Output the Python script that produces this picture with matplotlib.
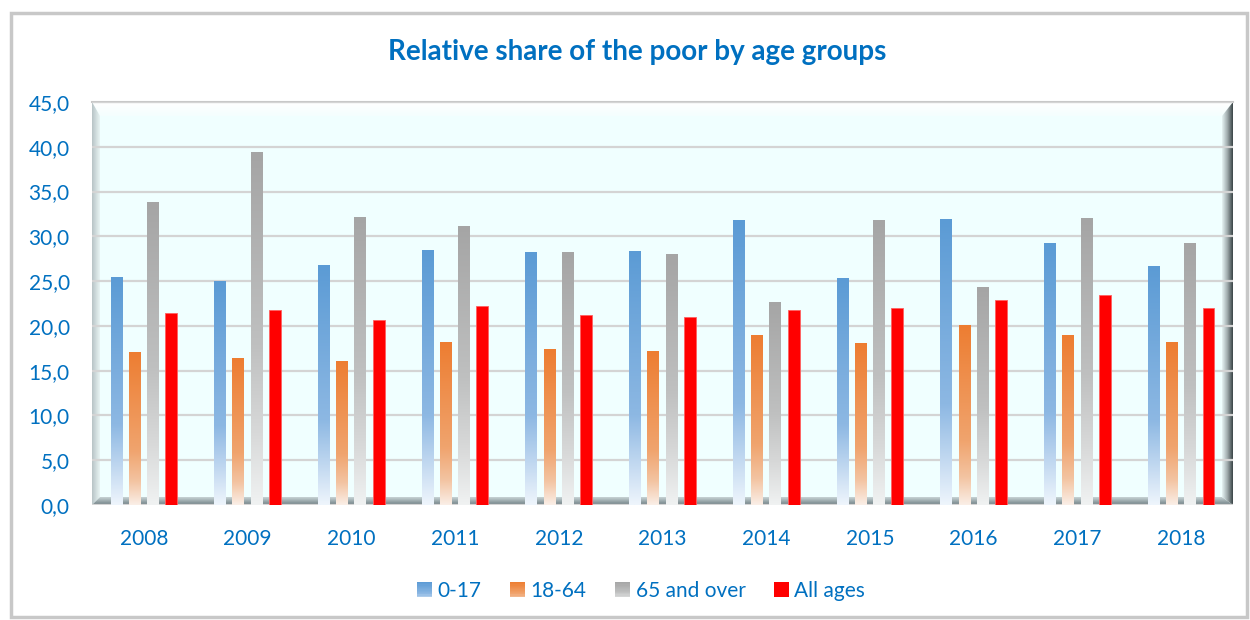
import matplotlib
matplotlib.use("Agg")
import matplotlib.pyplot as plt
import numpy as np
from matplotlib.colors import LinearSegmentedColormap
from matplotlib.patches import Rectangle, Polygon
from matplotlib.legend_handler import HandlerBase

years = ['2008', '2009', '2010', '2011', '2012', '2013', '2014', '2015', '2016', '2017', '2018']
age_0_17 = [25.5, 25.0, 26.8, 28.5, 28.2, 28.4, 31.8, 25.4, 31.9, 29.2, 26.7]
age_18_64 = [17.1, 16.4, 16.1, 18.2, 17.4, 17.2, 19.0, 18.1, 20.1, 19.0, 18.2]
age_65_over = [33.8, 39.4, 32.2, 31.2, 28.2, 28.0, 22.7, 31.8, 24.3, 32.0, 29.2]
all_ages = [21.4, 21.8, 20.7, 22.2, 21.2, 21.0, 21.8, 22.0, 22.9, 23.4, 22.0]
series_names = ['0-17', '18-64', '65 and over', 'All ages']

BLUE_TXT = '#0070C0'
FONT = 'Lato'

cmaps = [
    LinearSegmentedColormap.from_list('b', [(0, '#EEF5FC'), (0.15, '#C4DAF1'), (0.35, '#8DB8E3'), (1, '#5B9BD5')]),
    LinearSegmentedColormap.from_list('o', [(0, '#FAEEE6'), (0.15, '#F3C4A2'), (0.35, '#F0A46E'), (1, '#ED7D31')]),
    LinearSegmentedColormap.from_list('g', [(0, '#F0F2F2'), (0.2, '#D8D9D9'), (0.45, '#BFC0C0'), (1, '#A5A5A5')]),
    None,
]

fig = plt.figure(figsize=(12.5, 6.2), dpi=100)
W, H = 1250.0, 620.0

# outer chart frame
fig.patches.append(Rectangle((11 / W, 1 - 617 / H), 1236 / W, 604 / H, transform=fig.transFigure,
                             facecolor='none', edgecolor='#C8C8C8', lw=2.5, zorder=-1))

ax = fig.add_axes([92 / W, 115 / H, 1141 / W, 403 / H])
ax.set_xlim(-0.5, 10.5)
ax.set_ylim(0, 45)
for s in ax.spines.values():
    s.set_visible(False)
ax.set_facecolor('#F0FFFF')

# 3d-ish walls (in axes coords)
px = 1 / 1141.0
py = 1 / 403.0
lw_ = 8 * px
rw_ = 11 * px
tw_ = 14 * py
fw_ = 8 * py

def grad_patch(poly, colors, horizontal, z):
    p = Polygon(poly, closed=True, transform=ax.transAxes, facecolor='none', edgecolor='none', zorder=z)
    ax.add_patch(p)
    cm = LinearSegmentedColormap.from_list('w', colors)
    g = np.linspace(0, 1, 64)
    img = g[None, :] if horizontal else g[:, None]
    xs = [q[0] for q in poly]
    ys = [q[1] for q in poly]
    im = ax.imshow(img, cmap=cm, aspect='auto', extent=(min(xs), max(xs), min(ys), max(ys)),
                   transform=ax.transAxes, origin='lower', zorder=z, interpolation='bilinear')
    im.set_clip_path(p)

# top white band
grad_patch([(0, 1), (1, 1), (1 - rw_, 1 - tw_), (lw_, 1 - tw_)], ['#F4FEFE', '#FFFFFF'], False, 0.2)
# left wall
grad_patch([(0, 1), (lw_, 1 - tw_), (lw_, fw_), (0, 0)], ['#B8C4C6', '#E8F4F4'], True, 0.3)
# floor
grad_patch([(0, 0), (lw_, fw_), (1 - rw_, fw_), (1, 0)], ['#6E7E82', '#C8D4D6'], False, 0.3)
# right wall
grad_patch([(1 - rw_, 1 - tw_), (1, 1), (1, 0), (1 - rw_, fw_)], ['#E6F4F4', '#9FAAAC', '#3A4446'], True, 0.3)
ax.plot([0, 1], [1, 1], transform=ax.transAxes, color='#C8C8C8', lw=1.5, zorder=0.4, clip_on=False)

ax.set_yticks(np.arange(0, 46, 5))
ax.yaxis.grid(True, color='#D4D4D4', lw=1.6, zorder=0.5)
ax.set_axisbelow(True)
ax.tick_params(axis='both', length=0, labelsize=15, labelcolor=BLUE_TXT)
ax.tick_params(axis='y', pad=16)
ax.tick_params(axis='x', pad=17)
ax.set_yticklabels([f'{v:.1f}'.replace('.', ',') for v in np.arange(0, 46, 5)], fontfamily=FONT)
x = np.arange(len(years))
ax.set_xticks(x)
ax.set_xticklabels(years, fontfamily=FONT)

pitch = 0.176
bw = 0.115
data = [age_0_17, age_18_64, age_65_over, all_ages]
for i, vals in enumerate(data):
    offs = (i - 1.5) * pitch
    if cmaps[i] is None:
        ax.bar(x + offs, vals, width=bw, color='#FF0000', edgecolor='#FF6060', lw=0.6, zorder=3)
        continue
    bars = ax.bar(x + offs, vals, width=bw, facecolor='none', edgecolor='none', zorder=3)
    g = np.linspace(0, 1, 128)[:, None]
    for b in bars:
        x0, w, h = b.get_x(), b.get_width(), b.get_height()
        im = ax.imshow(g, cmap=cmaps[i], aspect='auto', extent=(x0, x0 + w, 0, h),
                       origin='lower', zorder=2.5, interpolation='bilinear')
        im.set_clip_path(b)
ax.set_xlim(-0.5, 10.5)
ax.set_ylim(0, 45)

fig.text(637 / W, 1 - 52 / H, 'Relative share of the poor by age groups', ha='center', va='center',
         fontsize=20, fontweight='bold', color=BLUE_TXT, fontfamily=FONT)


class GradHandler(HandlerBase):
    def __init__(self, cmap, solid=None):
        super().__init__()
        self.cmap = cmap
        self.solid = solid

    def legend_artist(self, legend, orig_handle, fontsize, handlebox):
        x0, y0 = -handlebox.xdescent, -handlebox.ydescent
        w, h = handlebox.width, handlebox.height
        if self.solid:
            r = Rectangle((x0, y0), w, h, facecolor=self.solid, edgecolor='none',
                          transform=handlebox.get_transform())
            handlebox.add_artist(r)
            return r
        n = 12
        first = None
        for k in range(n):
            c = self.cmap(1 - (k + 0.5) / n * 0.8)
            r = Rectangle((x0, y0 + h - (k + 1) * h / n), w, h / n + 0.3, facecolor=c, edgecolor='none',
                          transform=handlebox.get_transform())
            handlebox.add_artist(r)
            first = first or r
        return first


handles = [Rectangle((0, 0), 1, 1) for _ in range(4)]
hmap = {handles[0]: GradHandler(cmaps[0]), handles[1]: GradHandler(cmaps[1]),
        handles[2]: GradHandler(cmaps[2]), handles[3]: GradHandler(None, '#FF0000')}
leg = fig.legend(handles, series_names, handler_map=hmap, loc='center', ncol=4,
                 bbox_to_anchor=(641 / W, 1 - 591 / H), frameon=False,
                 prop={'family': FONT, 'size': 15}, handlelength=0.75, handleheight=0.75,
                 handletextpad=0.25, columnspacing=1.35)
for t in leg.get_texts():
    t.set_color(BLUE_TXT)

fig.savefig('out.png', dpi=100)
